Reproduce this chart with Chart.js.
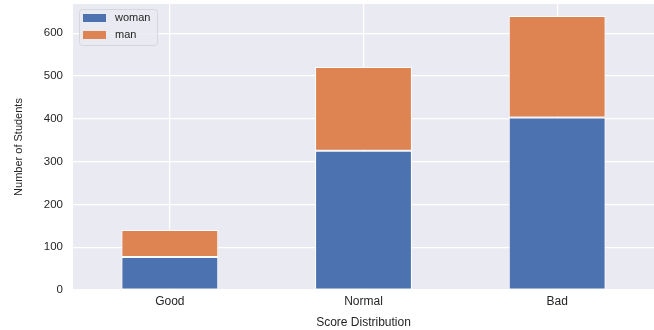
<!DOCTYPE html>
<html>
<head>
<meta charset="utf-8">
<script src="https://cdn.jsdelivr.net/npm/chart.js@4.4.0/dist/chart.umd.min.js"></script>
<style>
html,body{margin:0;padding:0;background:#fff;overflow:hidden;}
#wrap{width:654px;height:330px;position:relative;}
</style>
</head>
<body>
<div id="wrap"><canvas id="c" width="654" height="330"></canvas></div>
<script>
const categories = ["Good", "Normal", "Bad"];
const womanCounts = [77, 325, 403];
const manCounts = [63, 196, 237];
const yTicks = [0, 100, 200, 300, 400, 500, 600];

const FONT = "'Liberation Sans', Arial, sans-serif";

const bgPlugin = {
  id: 'bg',
  beforeDraw(chart) {
    const {ctx, chartArea: a} = chart;
    ctx.save();
    ctx.fillStyle = '#EAEAF2';
    ctx.fillRect(a.left, a.top, a.right - a.left, a.bottom - a.top);
    ctx.restore();
  }
};

const legendPlugin = {
  id: 'boxLegend',
  afterDatasetsDraw(chart) {
    const {ctx, chartArea: a} = chart;
    const x0 = a.left + 6, y0 = a.top + 5;
    const w = 78, h = 36;
    ctx.save();
    ctx.fillStyle = 'rgba(234,234,242,0.85)';
    ctx.strokeStyle = '#d6d6de';
    ctx.lineWidth = 1;
    ctx.beginPath();
    ctx.roundRect(x0 + 0.5, y0 + 0.5, w, h, 3);
    ctx.fill();
    ctx.stroke();
    ctx.font = '11px ' + FONT;
    ctx.textBaseline = 'middle';
    chart.data.datasets.forEach((ds, i) => {
      const cy = y0 + 9 + i * 17;
      ctx.fillStyle = ds.backgroundColor;
      ctx.fillRect(x0 + 4, cy - 4, 23, 8);
      ctx.fillStyle = '#262626';
      ctx.fillText(ds.label, x0 + 36, cy);
    });
    ctx.restore();
  }
};

new Chart(document.getElementById('c'), {
  type: 'bar',
  data: {
    labels: categories,
    datasets: [
      {label: 'woman', data: womanCounts, backgroundColor: '#4C72B0', borderColor: '#ffffff', borderWidth: 1, borderSkipped: false},
      {label: 'man', data: manCounts, backgroundColor: '#DD8452', borderColor: '#ffffff', borderWidth: 1, borderSkipped: false}
    ]
  },
  options: {
    responsive: false,
    animation: false,
    devicePixelRatio: 1,
    layout: {padding: {top: 4, right: 0, left: 0, bottom: 0}},
    datasets: {bar: {categoryPercentage: 1.0, barPercentage: 0.5}},
    plugins: {legend: {display: false}, tooltip: {enabled: false}},
    scales: {
      x: {
        stacked: true,
        grid: {color: '#ffffff', lineWidth: 1.2, offset: false, drawTicks: false},
        border: {display: false},
        ticks: {color: '#262626', font: {family: FONT, size: 12}, padding: 4},
        title: {display: true, text: 'Score Distribution', color: '#262626', font: {family: FONT, size: 12}, padding: {top: 6, bottom: 0}},
        afterFit(s) { s.height = 40; s.paddingLeft = 0; s.paddingRight = 0; }
      },
      y: {
        stacked: true,
        min: 0,
        max: 668,
        afterBuildTicks(s) { s.ticks = yTicks.map(v => ({value: v})); },
        grid: {color: '#ffffff', lineWidth: 1.2, drawTicks: false},
        border: {display: false},
        ticks: {color: '#262626', font: {family: FONT, size: 11.5}, padding: 10},
        title: {display: true, text: 'Number of Students', color: '#262626', font: {family: FONT, size: 11}, padding: {top: 12, bottom: 0}},
        afterFit(s) { s.width = 73; s.paddingTop = 0; s.paddingBottom = 0; }
      }
    }
  },
  plugins: [bgPlugin, legendPlugin]
});
</script>
</body>
</html>
